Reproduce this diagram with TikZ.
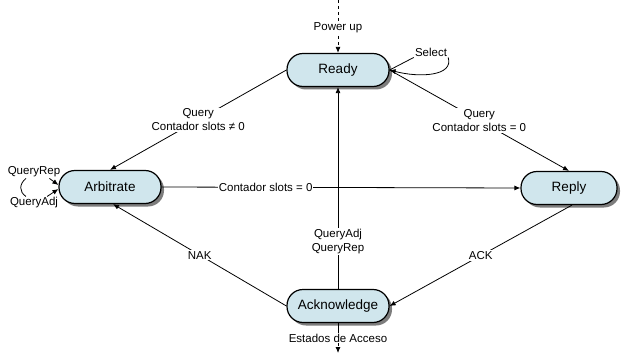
\documentclass[tikz,border=0pt]{standalone}
\usepackage{fontspec}
\setmainfont{Liberation Sans}
\usetikzlibrary{arrows.meta,shadows}
\definecolor{stfill}{RGB}{208,230,237}
\definecolor{shgray}{RGB}{125,125,125}
\tikzset{
  state/.style={draw=black, line width=1.2pt, fill=stfill, rounded corners=16pt,
    minimum width=102pt, minimum height=33pt, inner sep=2pt,
    font=\fontsize{13.5}{16}\selectfont,
    drop shadow={shadow xshift=3pt, shadow yshift=-3pt, fill=shgray, opacity=1}},
  lbl/.style={fill=white, inner sep=1pt, align=center, font=\fontsize{11.5}{14}\selectfont},
  plain/.style={inner sep=1pt, align=center, font=\fontsize{11.5}{14}\selectfont},
  edge/.style={line width=0.8pt, -{Latex[length=6pt,width=5pt]}},
  link/.style={line width=0.8pt},
}
\begin{document}
\begin{tikzpicture}[x=1pt,y=-1pt]
\useasboundingbox (0,0) rectangle (624,353);

% states
\node[state] (ready) at (338,70) {Ready};
\node[state] (arb) at (110,187) {Arbitrate};
\node[state, minimum width=96pt] (reply) at (569,188) {Reply};
\node[state] (ack) at (338,306) {Acknowledge};

% loose ends
\coordinate (top) at (338,0);
\coordinate (bot) at (338,353);

% power up entry
\draw[edge, dashed] (top) -- node[lbl, pos=0.53] {Power up} (ready.north);

% select self loop on Ready
\node[plain] (sel) at (431,52) {Select};
\draw[link] (ready.east) -- (sel.south west);
\draw[edge] (sel.south east) .. controls (454,76) and (420,78) .. (ready.east);

% Ready -> Arbitrate, Ready -> Reply
\draw[edge] (ready.west) -- node[lbl] {Query\\Contador slots ≠ 0} (arb.north);
\draw[edge] (ready.east) -- node[lbl] {Query\\Contador slots = 0} (reply.north);

% Arbitrate -> Reply
\draw[edge] (arb.east) -- node[lbl, pos=0.29] {Contador slots = 0} (reply.west);

% Acknowledge -> Ready
\draw[edge] (ack.north) -- node[lbl, pos=0.236] {QueryAdj\\QueryRep} (ready.south);

% Reply -> Acknowledge, Acknowledge -> Arbitrate
\draw[edge] ([xshift=3pt]reply.south) -- node[lbl] {ACK} (ack.east);
\draw[edge] (ack.west) -- node[lbl] {NAK} ([xshift=3pt]arb.south);

% Arbitrate self loop
\node[plain] (qrep) at (34,172) {QueryRep};
\node[plain] (qadj) at (34,203) {QueryAdj};
\draw[edge] ([xshift=-12pt]qrep.south east) -- ([yshift=2pt]arb.west);
\draw[edge] ([xshift=-12pt]qadj.north east) -- ([yshift=-2pt]arb.west);
\draw[link] ([xshift=-8pt]qrep.south) .. controls (19,184) and (19,192) .. ([xshift=-8pt]qadj.north);

% exit
\node[plain] (est) at (338,338) {Estados de Acceso};
\draw[link] (ack.south) -- (est.north);
\draw[edge, dashed] (est.south) -- (bot);
\end{tikzpicture}
\end{document}
